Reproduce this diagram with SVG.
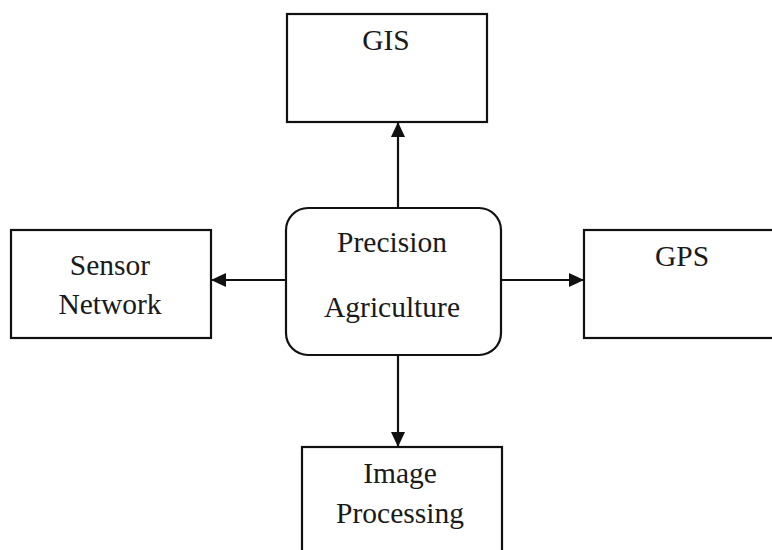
<svg xmlns="http://www.w3.org/2000/svg" width="772" height="550" viewBox="0 0 772 550">
<style>
.box{fill:#fff;stroke:#111;stroke-width:2.2}
.t{font-family:"Liberation Serif","Times New Roman",serif;font-size:29.5px;fill:#1a1a1a;text-anchor:middle}
.c{stroke:#111;stroke-width:2.2;fill:none;marker-end:url(#ah)}
</style>
<defs>
<marker id="ah" markerWidth="16" markerHeight="14" refX="14" refY="7" orient="auto" markerUnits="userSpaceOnUse">
<path d="M0,0 L15,7 L0,14 Z" fill="#111"/>
</marker>
</defs>
<rect width="772" height="550" fill="#fff"/>
<g id="connectors">
<line class="c" x1="398" y1="208" x2="398" y2="123"/>
<line class="c" x1="286" y1="280" x2="212" y2="280"/>
<line class="c" x1="501" y1="280" x2="583" y2="280"/>
<line class="c" x1="398" y1="355" x2="398" y2="446"/>
</g>
<g id="gis">
<rect class="box" x="287" y="14" width="200" height="108"/>
<text class="t" x="386" y="50">GIS</text>
</g>
<g id="sensor">
<rect class="box" x="11" y="230" width="200" height="108"/>
<text class="t" x="110" y="275">Sensor</text>
<text class="t" x="110" y="314">Network</text>
</g>
<g id="precision">
<rect class="box" x="286" y="208" width="215" height="147" rx="22" ry="22"/>
<text class="t" x="392" y="252">Precision</text>
<text class="t" x="392" y="317">Agriculture</text>
</g>
<g id="gps">
<rect class="box" x="584" y="230" width="200" height="108"/>
<text class="t" x="682" y="266">GPS</text>
</g>
<g id="image">
<rect class="box" x="302" y="447" width="200" height="120"/>
<text class="t" x="400" y="483">Image</text>
<text class="t" x="400" y="523">Processing</text>
</g>
</svg>
